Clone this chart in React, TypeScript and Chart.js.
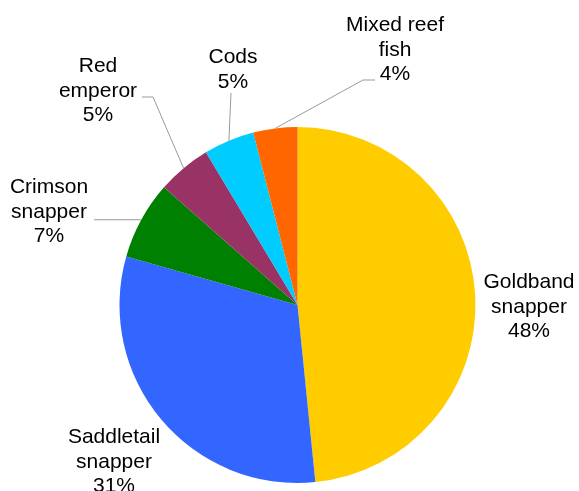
import React, { useEffect, useRef } from "react";
import { Chart, registerables } from "chart.js";

Chart.register(...registerables);

const categories = ["Goldband snapper", "Saddletail snapper", "Crimson snapper", "Red emperor", "Cods", "Mixed reef fish"];
const shares = [48.4, 31.0, 7.1, 4.9, 4.6, 4.0];
const percentLabels = ["48%", "31%", "7%", "5%", "5%", "4%"];
const labelLines = [
  ["Goldband", "snapper"],
  ["Saddletail", "snapper"],
  ["Crimson", "snapper"],
  ["Red", "emperor"],
  ["Cods"],
  ["Mixed reef", "fish"],
];
const sliceColors = ["#FFCC00", "#3366FF", "#008000", "#993366", "#00CCFF", "#FF6600"];

// label layout: text centre x, first baseline y, leader elbow points (after slice edge)
const labelLayout: { x: number; y: number; leader: [number, number][] | null }[] = [
  { x: 529, y: 288, leader: null },
  { x: 114, y: 443, leader: null },
  { x: 49, y: 193, leader: [[94, -1]] },
  { x: 98, y: 72, leader: [[153, 97], [142, 97]] },
  { x: 233, y: 63, leader: [[231, 93]] },
  { x: 395, y: 31, leader: [[363, 80], [375, 80]] },
];
const LINE_H = 24.5;

const labelPlugin = {
  id: "pieLabels",
  afterDraw(chart: any) {
    const ctx = chart.ctx;
    const meta = chart.getDatasetMeta(0);
    ctx.save();
    meta.data.forEach((arc: any, i: number) => {
      const p = arc.getProps(["x", "y", "startAngle", "endAngle", "outerRadius"], true);
      const mid = (p.startAngle + p.endAngle) / 2;
      const ex = p.x + Math.cos(mid) * p.outerRadius;
      const ey = p.y + Math.sin(mid) * p.outerRadius;
      const lay = labelLayout[i];
      if (lay.leader) {
        ctx.beginPath();
        ctx.strokeStyle = "#9a9a9a";
        ctx.lineWidth = 1;
        ctx.moveTo(ex, ey);
        lay.leader.forEach(([lx, ly]) => ctx.lineTo(lx, ly < 0 ? ey : ly));
        ctx.stroke();
      }
      ctx.fillStyle = "#000000";
      ctx.font = "21px 'Liberation Sans', Arial, sans-serif";
      ctx.textAlign = "center";
      ctx.textBaseline = "alphabetic";
      const lines = [...labelLines[i], percentLabels[i]];
      lines.forEach((t, k) => ctx.fillText(t, lay.x, lay.y + k * LINE_H));
    });
    ctx.restore();
  },
};

export default function App() {
  const ref = useRef<HTMLCanvasElement | null>(null);
  useEffect(() => {
    if (!ref.current) return;
    const chart = new Chart(ref.current, {
      type: "pie",
      data: {
        labels: categories,
        datasets: [
          {
            data: shares,
            backgroundColor: sliceColors,
            borderWidth: 0,
          },
        ],
      },
      options: {
        responsive: false,
        animation: false,
        devicePixelRatio: 1,
        layout: { padding: { left: 119.5, right: 103.5, top: 127, bottom: 8 } },
        plugins: { legend: { display: false }, tooltip: { enabled: false } },
        events: [],
      },
      plugins: [labelPlugin],
    });
    return () => chart.destroy();
  }, []);
  return (
    <div style={{ position: "absolute", left: 0, top: 0, width: 579, height: 491, background: "#fff" }}>
      <canvas ref={ref} width={579} height={491} style={{ width: 579, height: 491 }} />
    </div>
  );
}
